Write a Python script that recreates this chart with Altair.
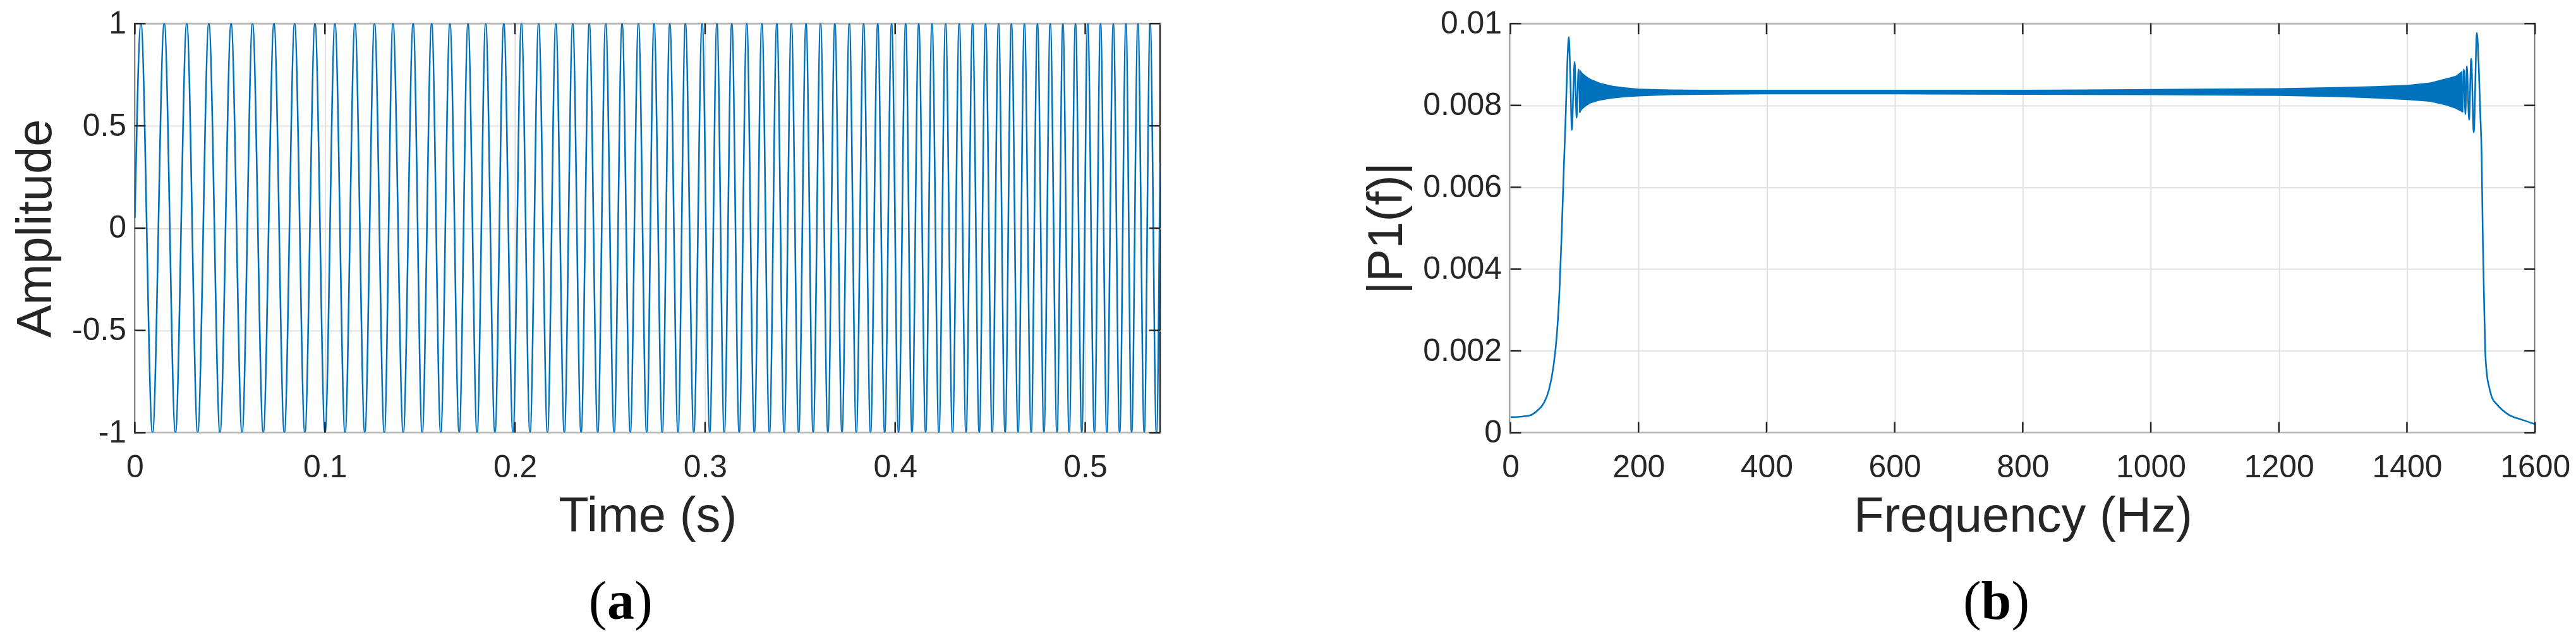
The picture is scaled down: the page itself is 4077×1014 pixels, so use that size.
import altair as alt
import pandas as pd

BLUE = "#0072BD"
INK = "#262626"

# ---------------- (a) chirp signal ----------------
# times (s) of the maxima (+1) and minima (-1)
peak_times = [0.00319, 0.01546, 0.02731, 0.03892, 0.05063, 0.06191, 0.07319, 0.08404,
              0.09476, 0.10527, 0.11579, 0.12608, 0.13580, 0.14642, 0.15614, 0.16576,
              0.17528, 0.18457, 0.19410, 0.20338, 0.21244, 0.22150, 0.23036, 0.23908,
              0.24771, 0.25634, 0.26496, 0.27316, 0.28145, 0.28965, 0.29847, 0.30624,
              0.31407, 0.32193, 0.32989, 0.33776, 0.34539, 0.35312, 0.36075, 0.36828,
              0.37591, 0.38341, 0.39084, 0.39814, 0.40554, 0.41241, 0.41938, 0.42654,
              0.43374, 0.44071, 0.44758, 0.45441, 0.46118, 0.46802, 0.47488, 0.48162,
              0.48825, 0.49489, 0.50133, 0.50806, 0.51480, 0.52143, 0.52773, 0.53417]
trough_times = [0.00929, 0.02133, 0.03305, 0.04479, 0.05640, 0.06755, 0.07863, 0.08945,
                0.10007, 0.11058, 0.12097, 0.13125, 0.14121, 0.15116, 0.16092, 0.17064,
                0.18003, 0.18945, 0.19894, 0.20790, 0.21709, 0.22594, 0.23477, 0.24353,
                0.25216, 0.26065, 0.26928, 0.27747, 0.28577, 0.29406, 0.30246, 0.31009,
                0.31795, 0.32591, 0.33388, 0.34161, 0.34924, 0.35687, 0.36463, 0.37203,
                0.37956, 0.38706, 0.39449, 0.40179, 0.40886, 0.41606, 0.42303, 0.43019,
                0.43729, 0.44426, 0.45109, 0.45786, 0.46470, 0.47157, 0.47830, 0.48517,
                0.49157, 0.49821, 0.50484, 0.51138, 0.51812, 0.52442, 0.53106, 0.53749]
chirp_start_t, chirp_start_amp = 0.0, 0.05
chirp_end_t, chirp_end_amp = 0.5394, 0.32

time_ticks = [0, 0.1, 0.2, 0.3, 0.4, 0.5]
amp_ticks = [-1, -0.5, 0, 0.5, 1]
time_domain = [0, 0.5394]
amp_domain = [-1, 1]

# ---------------- (b) single-sided spectrum ----------------
rise_freq = [0, 15, 30, 42, 52, 60, 67, 72.5, 76.5, 80, 83, 86.4, 89, 91.2,
             93.5, 96, 98.3, 100.3, 102, 103.4, 105, 106.4, 108.5]
rise_mag = [0.00038, 0.00039, 0.00042, 0.00054, 0.00072, 0.00104, 0.0016, 0.0024,
            0.00344, 0.00486, 0.0063, 0.0078, 0.0091, 0.00967,
            0.0087, 0.0074, 0.0084, 0.00906, 0.0082, 0.0077, 0.0084, 0.00888, 0.00782]

band_freq = [108.5, 112, 118, 125, 140, 160, 180, 200, 250, 300, 400, 600, 800,
             1000, 1200, 1300, 1350, 1400, 1436, 1461, 1476, 1486.7]
band_top = [0.00888, 0.00880, 0.00872, 0.00865, 0.00855, 0.00848, 0.00844, 0.00841,
            0.00839, 0.00838, 0.00838, 0.00838, 0.00838, 0.0084, 0.00842, 0.00845,
            0.00847, 0.0085, 0.00856, 0.00866, 0.00872, 0.00885]
band_bottom = [0.00782, 0.00790, 0.00798, 0.00805, 0.00812, 0.00817, 0.00820, 0.00822,
               0.00825, 0.00826, 0.00827, 0.00827, 0.00826, 0.00825, 0.00823, 0.0082,
               0.00817, 0.00813, 0.00809, 0.0080, 0.00792, 0.00783]

fall_freq = [1486.7, 1489, 1491.2, 1493.5, 1497, 1500.3, 1504.3, 1509.2, 1512, 1514.5,
             1516.6, 1518.5, 1520.5, 1522.2, 1525, 1528.3, 1533, 1540.6, 1559, 1577, 1600]
fall_mag = [0.00783, 0.00888, 0.00778, 0.00896, 0.00765, 0.00914, 0.00734, 0.00977,
            0.0090, 0.0078, 0.0068, 0.0047, 0.0032, 0.00203, 0.0014, 0.00112, 0.00085,
            0.00069, 0.00044, 0.00033, 0.00021]

freq_ticks = [0, 200, 400, 600, 800, 1000, 1200, 1400, 1600]
mag_ticks = [0, 0.002, 0.004, 0.006, 0.008, 0.01]
freq_domain = [0, 1600]
mag_domain = [0, 0.01]

# ---------------- layout / style ----------------
W_A, W_B, H = 1627, 1626, 649
TICK = 17
CAP_Y = 944
CAP_X = 771
LABEL_EXPR = "replace(format(datum.value, '~g'), '\u2212', '-')"


def x_axis(vals, title):
    return alt.Axis(values=vals, title=title, grid=True, ticks=False, tickSize=0,
                    domain=False, labelExpr=LABEL_EXPR, labelPadding=30,
                    titlePadding=14, labelFlush=False, labelOverlap=False)


def y_axis(vals, title):
    return alt.Axis(values=vals, title=title, grid=True, ticks=False, tickSize=0,
                    domain=False, labelExpr=LABEL_EXPR, labelPadding=14,
                    titlePadding=17, labelFlush=False, labelOverlap=False)


def inner_ticks(xticks, yticks, xs, ys, xa, ya, W):
    xt = pd.DataFrame({"x": xticks})
    yt = pd.DataFrame({"y": yticks})
    bx = alt.Chart(xt).mark_rule(color=INK, strokeWidth=2.5)
    by = alt.Chart(yt).mark_rule(color=INK, strokeWidth=2.5)
    return [
        bx.encode(x=alt.X("x:Q", scale=xs, axis=xa), y=alt.value(H - TICK), y2=alt.value(H)),
        bx.encode(x=alt.X("x:Q", scale=xs, axis=xa), y=alt.value(0), y2=alt.value(TICK)),
        by.encode(y=alt.Y("y:Q", scale=ys, axis=ya), x=alt.value(0), x2=alt.value(TICK)),
        by.encode(y=alt.Y("y:Q", scale=ys, axis=ya), x=alt.value(W - TICK), x2=alt.value(W)),
    ]


def caption(letter, half):
    d = pd.DataFrame({"c": [0]})
    fs = 86
    common = dict(font="Liberation Serif", fontSize=fs, baseline="alphabetic", color="black")
    return [
        alt.Chart(d).mark_text(text="(", align="right", **common).encode(
            x=alt.value(CAP_X - half), y=alt.value(CAP_Y)),
        alt.Chart(d).mark_text(text=letter, align="center", fontWeight="bold", **common).encode(
            x=alt.value(CAP_X), y=alt.value(CAP_Y)),
        alt.Chart(d).mark_text(text=")", align="left", **common).encode(
            x=alt.value(CAP_X + half), y=alt.value(CAP_Y)),
    ]


# ---- panel (a)
chirp_rows = ([(chirp_start_t, chirp_start_amp)]
              + [(t, 1.0) for t in peak_times]
              + [(t, -1.0) for t in trough_times]
              + [(chirp_end_t, chirp_end_amp)])
chirp_df = pd.DataFrame(chirp_rows, columns=["x", "y"]).sort_values("x")

xs_a = alt.Scale(domain=time_domain, nice=False, zero=False)
ys_a = alt.Scale(domain=amp_domain, nice=False, zero=False)
xa_a = x_axis(time_ticks, "Time (s)")
ya_a = y_axis(amp_ticks, "Amplitude")

line_a = alt.Chart(chirp_df).mark_line(
    color=BLUE, strokeWidth=2.6, interpolate="monotone", clip=True
).encode(
    x=alt.X("x:Q", scale=xs_a, axis=xa_a),
    y=alt.Y("y:Q", scale=ys_a, axis=ya_a),
)

panel_a = alt.layer(line_a, *inner_ticks(time_ticks, amp_ticks, xs_a, ys_a, xa_a, ya_a, W_A),
                    *caption("a", 22)).properties(width=W_A, height=H)

# ---- panel (b)
edge_df = pd.concat([
    pd.DataFrame({"x": rise_freq, "y": rise_mag, "seg": "rise"}),
    pd.DataFrame({"x": fall_freq, "y": fall_mag, "seg": "fall"}),
])
band_df = pd.DataFrame({"x": band_freq, "y": band_bottom, "y2": band_top})

xs_b = alt.Scale(domain=freq_domain, nice=False, zero=False)
ys_b = alt.Scale(domain=mag_domain, nice=False, zero=False)
xa_b = x_axis(freq_ticks, "Frequency (Hz)")
ya_b = y_axis(mag_ticks, "|P1(f)|")

band_b = alt.Chart(band_df).mark_area(color=BLUE, opacity=1, clip=True).encode(
    x=alt.X("x:Q", scale=xs_b, axis=xa_b),
    y=alt.Y("y:Q", scale=ys_b, axis=ya_b),
    y2="y2:Q",
)
line_b = alt.Chart(edge_df).mark_line(
    color=BLUE, strokeWidth=2.6, interpolate="monotone", clip=True
).encode(
    x=alt.X("x:Q", scale=xs_b, axis=xa_b),
    y=alt.Y("y:Q", scale=ys_b, axis=ya_b),
    detail="seg:N",
)

panel_b = alt.layer(line_b, band_b, *inner_ticks(freq_ticks, mag_ticks, xs_b, ys_b, xa_b, ya_b, W_B),
                    *caption("b", 24)).properties(width=W_B, height=H)

chart = alt.hconcat(panel_a, panel_b, spacing=317).properties(
    padding={"left": 9, "top": 1, "right": 0, "bottom": 0}
).configure_view(
    stroke=INK, strokeWidth=2.5
).configure_axis(
    labelFont="Liberation Sans", labelFontSize=50, labelColor=INK,
    titleFont="Liberation Sans", titleFontSize=78, titleFontWeight="normal",
    titleColor=INK, gridColor="#e0e0e0", gridWidth=2,
)

chart.save("out.html", embed_options={"renderer": "svg", "actions": False})
